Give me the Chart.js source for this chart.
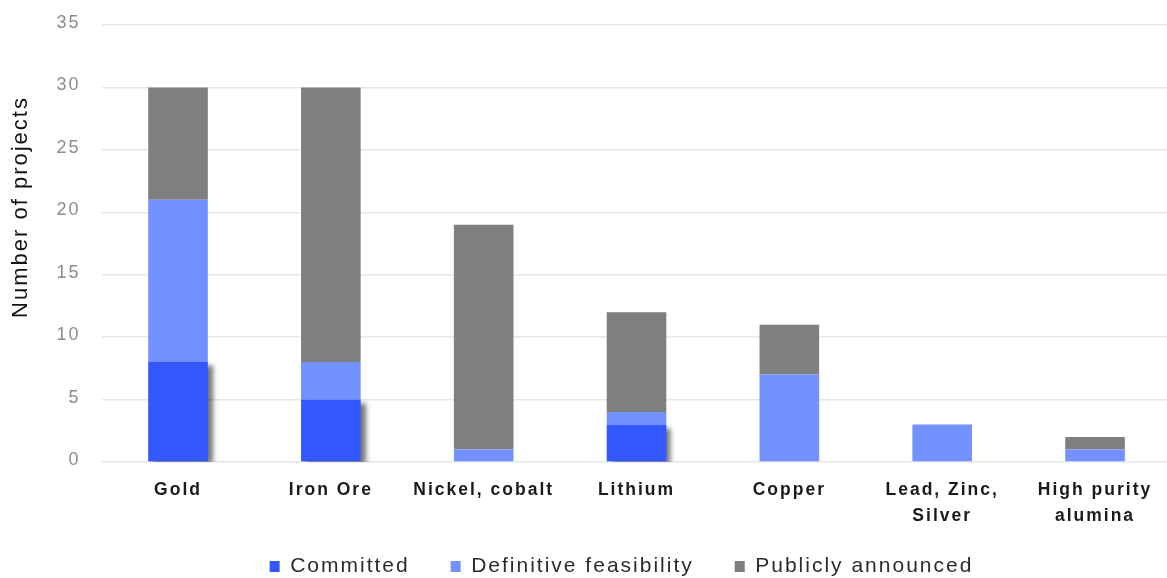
<!DOCTYPE html>
<html>
<head>
<meta charset="utf-8">
<script src="https://cdn.jsdelivr.net/npm/chart.js@4.4.1/dist/chart.umd.min.js"></script>
<style>
  html, body { margin: 0; padding: 0; background: #ffffff; }
  #wrap { width: 1167px; height: 578px; position: relative; }
</style>
</head>
<body>
<div id="wrap"><canvas id="chart" width="1167" height="578"></canvas></div>
<script>
// Mining projects by commodity and development stage
const categories = ["Gold", "Iron Ore", "Nickel, cobalt", "Lithium", "Copper", ["Lead, Zinc,", "Silver"], ["High purity", "alumina"]];
const committed = [8, 5, 0, 3, 0, 0, 0];
const definitiveFeasibility = [13, 3, 1, 1, 7, 3, 1];
const publiclyAnnounced = [9, 22, 18, 8, 4, 0, 1];
const yTicks = [0, 5, 10, 15, 20, 25, 30, 35];
const yTitle = 'Number of projects';

const FONT = 'Liberation Sans, Arial, sans-serif';
const toPoints = arr => arr.map((v, i) => ({ x: i, y: v }));

// Wide tracking on every text element
const trackingPlugin = {
  id: 'tracking',
  beforeInit(chart) { chart.ctx.letterSpacing = '2px'; },
  beforeUpdate(chart) { chart.ctx.letterSpacing = '2px'; },
  beforeDraw(chart) { chart.ctx.letterSpacing = '2px'; }
};

// Soft drop shadow behind the "Committed" bars
const shadowPlugin = {
  id: 'committedShadow',
  beforeDatasetDraw(chart, args) {
    if (args.index !== 0) return;
    const ctx = chart.ctx;
    ctx.save();
    ctx.shadowColor = 'rgba(0,0,0,0.55)';
    ctx.shadowBlur = 5;
    ctx.shadowOffsetX = 5;
    ctx.shadowOffsetY = 3;
  },
  afterDatasetDraw(chart, args) {
    if (args.index !== 0) return;
    chart.ctx.restore();
  }
};

// Legend sits a little right of the canvas centre
const legendOffsetPlugin = {
  id: 'legendOffset',
  afterLayout(chart) {
    const lg = chart.legend;
    if (!lg) return;
    lg.left += 38;
    lg.right += 38;
  }
};

// Rotated y-axis title, placed in the upper half of the axis
const yTitlePlugin = {
  id: 'yTitle',
  afterDraw(chart) {
    const ctx = chart.ctx;
    ctx.save();
    ctx.letterSpacing = '2px';
    ctx.translate(21, 207);
    ctx.rotate(-Math.PI / 2);
    ctx.textAlign = 'center';
    ctx.textBaseline = 'middle';
    ctx.fillStyle = '#111111';
    ctx.font = '22px ' + FONT;
    ctx.fillText(yTitle, 0, 0);
    ctx.restore();
  }
};

new Chart(document.getElementById('chart'), {
  type: 'bar',
  data: {
    datasets: [
      { label: 'Committed', data: toPoints(committed), backgroundColor: '#3358ff' },
      { label: 'Definitive feasibility', data: toPoints(definitiveFeasibility), backgroundColor: '#7492ff' },
      { label: 'Publicly announced', data: toPoints(publiclyAnnounced), backgroundColor: '#7f7f7f' }
    ]
  },
  options: {
    responsive: false,
    animation: false,
    layout: { padding: { left: 0, right: 0, top: 25, bottom: -9 } },
    datasets: { bar: { categoryPercentage: 1, barPercentage: 0.39, borderWidth: 0 } },
    plugins: {
      tooltip: { enabled: false },
      legend: {
        position: 'bottom',
        labels: {
          boxWidth: 10,
          boxHeight: 11,
          padding: 41,
          color: '#2b2b2b',
          font: { family: FONT, size: 21 }
        }
      }
    },
    scales: {
      x: {
        type: 'linear',
        stacked: true,
        offset: false,
        min: -0.5,
        max: 6.471,
        afterBuildTicks(scale) { scale.ticks = categories.map((_, i) => ({ value: i })); },
        grid: { display: false, drawTicks: false },
        border: { display: false },
        ticks: {
          color: '#1a1a1a',
          padding: 15,
          maxRotation: 0,
          autoSkip: false,
          callback: value => categories[value],
          font: { family: FONT, size: 17.5, weight: 'bold', lineHeight: 1.49 }
        },
        afterFit(scale) {
          scale.height = 53;
          scale.paddingLeft = 0;
          scale.paddingRight = 0;
          scale._computeLabelArea = () => undefined;
        }
      },
      y: {
        stacked: true,
        min: 0,
        max: 35,
        afterBuildTicks(scale) { scale.ticks = yTicks.map(v => ({ value: v })); },
        grid: { color: '#e6e6e6', lineWidth: 1.5, drawTicks: false },
        border: { display: false },
        ticks: {
          color: '#8c8c8c',
          padding: 21,
          labelOffset: -2,
          font: { family: FONT, size: 18 }
        },
        afterFit(scale) {
          scale.width = 101.6;
          scale.paddingTop = 0;
          scale.paddingBottom = 0;
        }
      }
    }
  },
  plugins: [trackingPlugin, shadowPlugin, legendOffsetPlugin, yTitlePlugin]
});
</script>
</body>
</html>
